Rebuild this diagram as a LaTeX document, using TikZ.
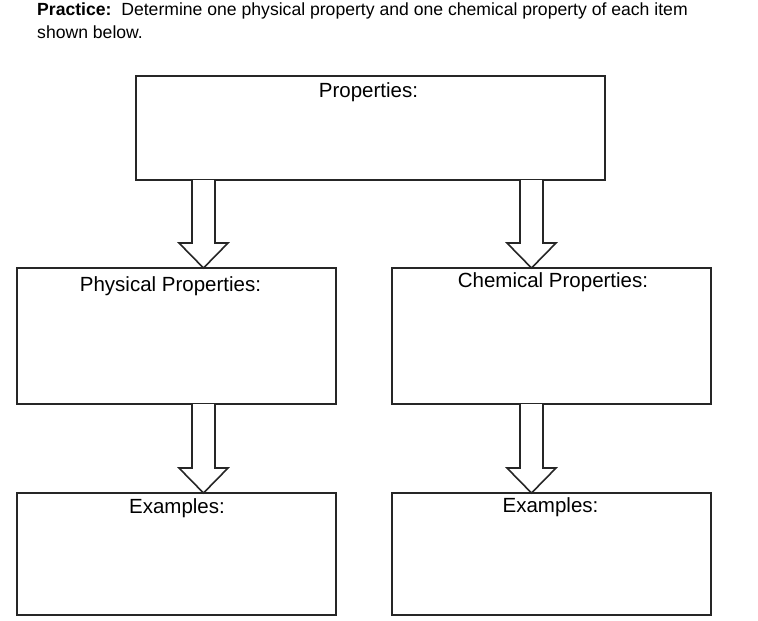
\documentclass[tikz,border=0pt]{standalone}
\usepackage{fontspec}
\setmainfont{Liberation Sans}
\begin{document}
\begin{tikzpicture}[x=1pt,y=-1pt,
  box/.style={draw=black!85,line width=1.6pt,minimum width=#1,inner sep=0pt},
  lbl/.style={anchor=base,inner sep=0pt,font=\fontsize{20.5}{24}\selectfont},
  hdr/.style={anchor=base west,inner sep=0pt,font=\fontsize{17.6}{21}\selectfont},
  fat/.style={draw=black!85,line width=1.6pt,line join=miter,fill=white}]
\useasboundingbox (0,0) rectangle (758,621);
% header
\node[hdr] (h1) at (37,15) {\textbf{Practice:}\ \ Determine one physical property and one chemical property of each item};
\node[hdr] (h2) at (37,38) {shown below.};
% boxes
\node[box=469pt,minimum height=104pt] (top) at (370.5,128) {};
\node[box=319pt,minimum height=136pt] (phys) at (176.5,336) {};
\node[box=319pt,minimum height=136pt] (chem) at (551.5,336) {};
\node[box=319pt,minimum height=122pt] (exl) at (176.5,554) {};
\node[box=319pt,minimum height=122pt] (exr) at (551.5,554) {};
% labels
\node[lbl] (ltop) at (368.5,97) {Properties:};
\node[lbl] (lphys) at (170.5,291) {Physical Properties:};
\node[lbl] (lchem) at (553,287) {Chemical Properties:};
\node[lbl] (lexl) at (177,513) {Examples:};
\node[lbl] (lexr) at (550.5,512) {Examples:};
% arrows
\newcommand\fatdown[3]{%
  \draw[fat] (#1-11.5,#2) -- (#1-11.5,#3-25) -- (#1-24.5,#3-25) -- (#1,#3)
    -- (#1+24.5,#3-25) -- (#1+11.5,#3-25) -- (#1+11.5,#2);}
\fatdown{203.5}{180}{268}
\fatdown{531.5}{180}{268}
\fatdown{203.5}{404}{493}
\fatdown{531.5}{404}{493}
\end{tikzpicture}
\end{document}
